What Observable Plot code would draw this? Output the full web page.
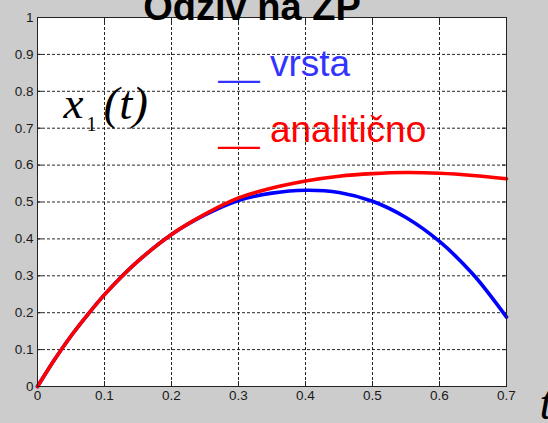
<!DOCTYPE html>
<html>
<head>
<meta charset="utf-8">
<script src="https://cdn.jsdelivr.net/npm/d3@7"></script>
<script src="https://cdn.jsdelivr.net/npm/@observablehq/plot@0.6"></script>
<style>
  html, body { margin: 0; padding: 0; background: #cccccc; }
  #chart svg { display: block; }
</style>
</head>
<body>
<div id="chart"></div>
<script>
// Data
const title = "Odziv na ZP";
const t =          [0, 0.025, 0.05, 0.075, 0.1, 0.125, 0.15, 0.2, 0.25, 0.3, 0.35, 0.4, 0.45, 0.5, 0.55, 0.6, 0.65, 0.7];
const analiticno = [0, 0.072, 0.137, 0.195, 0.249, 0.297, 0.340, 0.412, 0.467, 0.511, 0.538, 0.557, 0.570, 0.577, 0.580, 0.578, 0.572, 0.563];
const vrsta =      [0, 0.072, 0.137, 0.195, 0.249, 0.297, 0.340, 0.412, 0.465, 0.504, 0.524, 0.532, 0.526, 0.502, 0.458, 0.393, 0.304, 0.188];
const seriesNames = ["vrsta", "analitično"];
const seriesColors = ["#0000ff", "#ff0000"];
const legendTextColors = ["#3333ff", "#ff0000"];
const xTicks = [0, 0.1, 0.2, 0.3, 0.4, 0.5, 0.6, 0.7];
const xTickLabels = ["0", "0.1", "0.2", "0.3", "0.4", "0.5", "0.6", "0.7"];
const yTicks = [0, 0.1, 0.2, 0.3, 0.4, 0.5, 0.6, 0.7, 0.8, 0.9, 1];
const yTickLabels = ["0", "0.1", "0.2", "0.3", "0.4", "0.5", "0.6", "0.7", "0.8", "0.9", "1"];

const blueData = t.map((x, i) => ({t: x, v: vrsta[i]}));
const redData = t.map((x, i) => ({t: x, v: analiticno[i]}));

const tickFont = {fontFamily: "'Liberation Sans', Arial, sans-serif", fontSize: 13.5, fill: "#1a1a1a"};
const xFmt = d => xTickLabels[xTicks.indexOf(d)];
const yFmt = d => yTickLabels[yTicks.indexOf(d)];
const serif = "'Liberation Serif', 'Times New Roman', serif";
const sans = "'Liberation Sans', Arial, sans-serif";

const chart = Plot.plot({
  width: 548,
  height: 423,
  marginLeft: 37,
  marginRight: 42,
  marginTop: 17,
  marginBottom: 37,
  style: {background: "#cccccc", overflow: "visible"},
  x: {domain: [0, 0.7]},
  y: {domain: [0, 1]},
  marks: [
    Plot.frame({fill: "white", stroke: null}),
    Plot.gridX(xTicks, {stroke: "#000", strokeOpacity: 0.85, strokeDasharray: "3,2"}),
    Plot.gridY(yTicks, {stroke: "#000", strokeOpacity: 0.85, strokeDasharray: "3,2"}),
    Plot.axisX(xTicks, {anchor: "bottom", tickSize: -5, tickPadding: 9.4, tickFormat: xFmt, label: null, stroke: "#222", ...tickFont}),
    Plot.axisX(xTicks, {anchor: "top", tickSize: -5, tickFormat: () => "", label: null, stroke: "#222"}),
    Plot.axisY(yTicks, {anchor: "left", tickSize: -5, tickPadding: 9, tickFormat: yFmt, label: null, stroke: "#222", ...tickFont}),
    Plot.axisY(yTicks, {anchor: "right", tickSize: -5, tickFormat: () => "", label: null, stroke: "#222"}),
    Plot.line(blueData, {x: "t", y: "v", stroke: seriesColors[0], strokeWidth: 3.6, curve: "catmull-rom"}),
    Plot.line(redData, {x: "t", y: "v", stroke: seriesColors[1], strokeWidth: 3.6, curve: "catmull-rom"}),
    Plot.frame({stroke: "#222", strokeWidth: 1}),
    // title (cut off at the top, as in the reference)
    Plot.text([title], {frameAnchor: "top", dx: -20, dy: 2, lineAnchor: "bottom", fontFamily: sans, fontWeight: "bold", fontSize: 38, fill: "#000"}),
    // legend
    Plot.text(["__ " + seriesNames[0]], {frameAnchor: "top-left", textAnchor: "start", lineAnchor: "bottom", dx: 181, dy: 58, fontFamily: sans, fontSize: 37, fill: legendTextColors[0]}),
    Plot.text(["__ " + seriesNames[1]], {frameAnchor: "top-left", textAnchor: "start", lineAnchor: "bottom", dx: 181, dy: 124.7, fontFamily: sans, fontSize: 37, fill: legendTextColors[1]}),
    // y label x1(t)
    Plot.text(["x"], {frameAnchor: "top-left", textAnchor: "start", lineAnchor: "bottom", dx: 26, dy: 100, fontFamily: serif, fontStyle: "italic", fontSize: 45, fill: "#000"}),
    Plot.text(["1"], {frameAnchor: "top-left", textAnchor: "start", lineAnchor: "bottom", dx: 49, dy: 113, fontFamily: serif, fontSize: 20, fill: "#000"}),
    Plot.text(["(t)"], {frameAnchor: "top-left", textAnchor: "start", lineAnchor: "bottom", dx: 66, dy: 101, fontFamily: serif, fontStyle: "italic", fontSize: 47, fill: "#000"}),
    // x label t
    Plot.text(["t"], {frameAnchor: "bottom-right", textAnchor: "start", lineAnchor: "bottom", dx: 33, dy: 32, fontFamily: serif, fontStyle: "italic", fontSize: 48, fill: "#000"})
  ]
});
document.getElementById("chart").appendChild(chart);
</script>
</body>
</html>
